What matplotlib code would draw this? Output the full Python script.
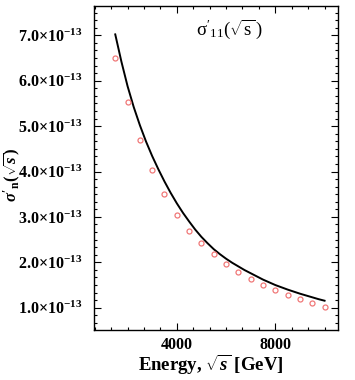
import matplotlib
matplotlib.use("Agg")
import matplotlib.pyplot as plt
import numpy as np
from matplotlib.ticker import FixedLocator, MultipleLocator

plt.rcParams["font.family"] = ["Liberation Serif", "DejaVu Serif"]
plt.rcParams["mathtext.fontset"] = "custom"
plt.rcParams["mathtext.rm"] = "Liberation Serif:bold"
plt.rcParams["mathtext.it"] = "Liberation Serif:bold:italic"
plt.rcParams["mathtext.bf"] = "Liberation Serif:bold"
plt.rcParams["mathtext.sf"] = "Liberation Serif"

# solid curve: energy [GeV] and cross section in units of 1e-13
curve_energy = [1500, 1750, 2000, 2250, 2500, 2750, 3000, 3250, 3500, 3750,
                4000, 4250, 4500, 4750, 5000, 5250, 5500, 5750, 6000, 6250,
                6500, 6750, 7000, 7250, 7500, 7750, 8000, 8250, 8500, 8750,
                9000, 9250, 9500, 9750, 10000]
curve_sigma = [7.02, 6.42, 5.88, 5.42, 5.02, 4.66, 4.34, 4.05, 3.78, 3.53,
               3.30, 3.09, 2.90, 2.72, 2.56, 2.42, 2.29, 2.18, 2.08, 1.99,
               1.91, 1.83, 1.76, 1.69, 1.62, 1.56, 1.50, 1.45, 1.40, 1.355,
               1.31, 1.27, 1.23, 1.19, 1.155]

# open circles
point_energy = [1500, 2000, 2500, 3000, 3500, 4000, 4500, 5000, 5500, 6000,
                6500, 7000, 7500, 8000, 8500, 9000, 9500, 10000]
point_sigma = [6.50, 5.52, 4.70, 4.04, 3.50, 3.04, 2.70, 2.43, 2.19, 1.96,
               1.78, 1.63, 1.50, 1.39, 1.28, 1.19, 1.10, 1.02]

y_ticks = [1.0, 2.0, 3.0, 4.0, 5.0, 6.0, 7.0]
x_ticks = [4000, 8000]
scale = 1e-13

fig = plt.figure(figsize=(3.55, 3.8), dpi=100)
ax = fig.add_axes([0.265, 0.1316, 0.686, 0.852])

ax.plot(curve_energy, np.array(curve_sigma) * scale, color="black", lw=1.4)
ax.plot(point_energy, np.array(point_sigma) * scale, "o", ms=3.6, mfc="none",
        mec="#f07878", mew=0.9)

ax.set_xlim(640, 10530)
ax.set_ylim(0.51 * scale, 7.64 * scale)

ax.xaxis.set_major_locator(FixedLocator(x_ticks))
ax.xaxis.set_minor_locator(MultipleLocator(4000 / 6))
ax.set_xticklabels([str(v) for v in x_ticks], fontsize=11.5, fontweight="bold")

ax.yaxis.set_major_locator(FixedLocator([v * scale for v in y_ticks]))
ax.yaxis.set_minor_locator(MultipleLocator(scale / 6))
ax.set_yticklabels([r"$%.1f{\times}10^{-13}$" % v for v in y_ticks], fontsize=11.5)

ax.tick_params(which="both", direction="in", top=True, right=True, width=0.8)
ax.tick_params(which="major", length=5)
ax.tick_params(axis="y", which="major", pad=8.5)
ax.tick_params(axis="x", which="major", pad=5)
ax.tick_params(which="minor", length=2.5)
for sp in ax.spines.values():
    sp.set_linewidth(1.0)

ax.set_xlabel(r"Energy, $\sqrt{s}$ [GeV]", fontsize=13.5, fontweight="bold")
ax.xaxis.set_label_coords(0.48, -0.07)
ax.set_ylabel(r"$\sigma'_{\mathrm{n}}(\sqrt{s})$", fontsize=12)
ax.yaxis.set_label_coords(-0.29, 0.48)
ax.text(0.42, 0.91, r"$\mathsf{\sigma'_{11}(\sqrt{s}\,)}$", transform=ax.transAxes,
        fontsize=13.5)

fig.savefig("out.png", dpi=100)
